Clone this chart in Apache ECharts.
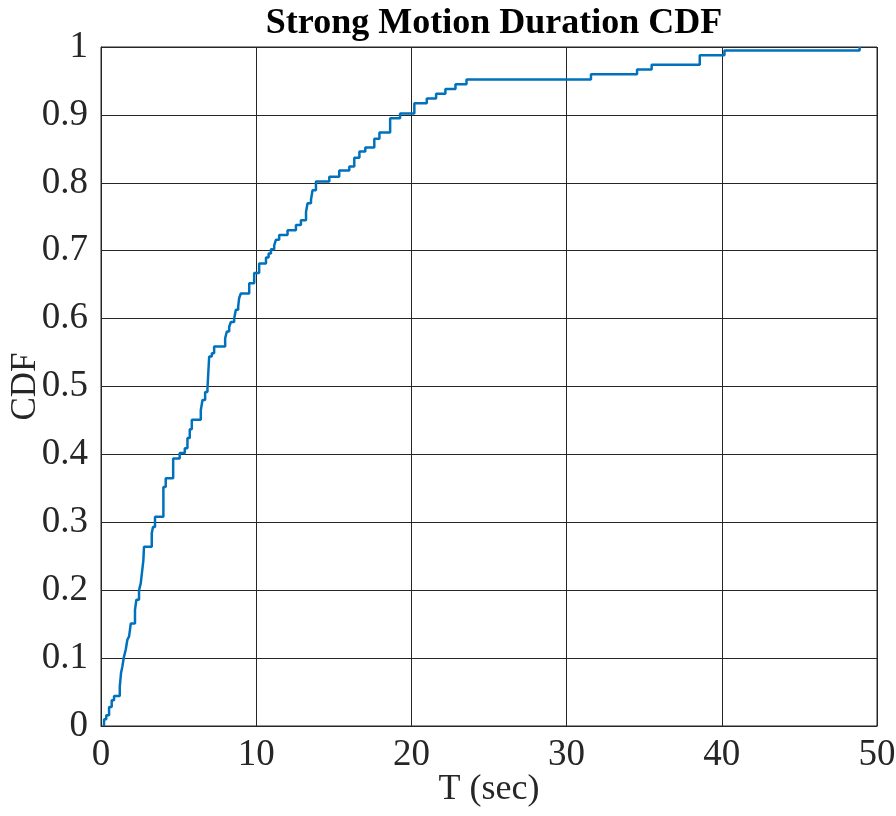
<!DOCTYPE html>
<html>
<head>
<meta charset="utf-8">
<script src="https://cdn.jsdelivr.net/npm/echarts@6/dist/echarts.min.js"></script>
<style>html,body{margin:0;padding:0;background:#fff;}#c{width:896px;height:816px;}</style>
</head>
<body>
<div id="c"></div>
<script>
// Step locations (T, sec) and CDF value after each step
const T_VALUES = [0.19, 0.2, 0.34, 0.52, 0.69, 0.84, 1.21, 1.29, 1.37, 1.48, 1.59, 1.70, 1.81, 1.92,
  2.19, 2.28, 2.45, 2.56, 2.66, 2.73, 2.77, 3.27, 3.35, 3.48, 4.02, 4.17, 4.65, 5.07, 5.40, 5.57,
  5.72, 5.85, 6.43, 6.54, 6.71, 6.86, 6.97, 7.14, 7.29, 8.00, 8.11, 8.26, 8.37, 8.58, 8.69, 8.84,
  8.90, 9.01, 9.55, 9.87, 10.19, 10.63, 10.80, 10.95, 11.16, 11.27, 11.48, 12.02, 12.56, 12.88,
  13.21, 13.31, 13.53, 13.63, 13.85, 14.71, 15.35, 16.00, 16.32, 16.65, 17.03, 17.61, 17.94,
  18.63, 19.27, 20.19, 20.99, 21.59, 22.19, 22.84, 23.55, 31.57, 34.54, 35.48, 38.58, 40.17, 48.88];
const CDF_VALUES = [0, 0.01, 0.016, 0.028, 0.038, 0.044, 0.058, 0.078, 0.087, 0.102, 0.112, 0.127, 0.132, 0.151,
  0.171, 0.186, 0.2, 0.21, 0.23, 0.244, 0.264, 0.284, 0.293, 0.308, 0.352, 0.365, 0.394, 0.402, 0.409, 0.424,
  0.437, 0.451, 0.465, 0.48, 0.492, 0.497, 0.544, 0.549, 0.559, 0.571, 0.581, 0.588, 0.595, 0.6, 0.613, 0.618,
  0.63, 0.637, 0.652, 0.667, 0.681, 0.69, 0.696, 0.702, 0.708, 0.716, 0.723, 0.73, 0.738, 0.745,
  0.757, 0.77, 0.775, 0.789, 0.802, 0.809, 0.818, 0.824, 0.837, 0.846, 0.852, 0.865, 0.874,
  0.895, 0.902, 0.917, 0.924, 0.931, 0.938, 0.945, 0.952, 0.96, 0.967, 0.974, 0.988, 0.995, 1.0];

const TITLE = 'Strong Motion Duration CDF';
const X_NAME = 'T (sec)';
const Y_NAME = 'CDF';

const chart = echarts.init(document.getElementById('c'), null, {renderer: 'canvas'});
const font = 'Liberation Serif, Times New Roman, serif';
chart.setOption({
  animation: false,
  backgroundColor: '#fff',
  title: {
    text: TITLE, left: 489, textAlign: 'center', top: 1,
    textStyle: {fontFamily: font, fontWeight: 'bold', fontSize: 36, color: '#000'}
  },
  grid: {left: 101, right: 19, top: 47, bottom: 90, outerBoundsMode: 'none', containLabel: false,
    show: true, borderColor: '#262626', borderWidth: 1, backgroundColor: 'transparent'},
  xAxis: {
    type: 'value', min: 0, max: 50, interval: 10,
    name: X_NAME, nameLocation: 'middle', nameGap: 46, nameMoveOverlap: false,
    nameTextStyle: {fontFamily: font, fontSize: 36, color: '#262626'},
    axisLine: {show: true, lineStyle: {color: '#262626', width: 1}},
    axisTick: {show: true, inside: true, length: 6, lineStyle: {color: '#262626'}},
    axisLabel: {fontFamily: font, fontSize: 37, color: '#262626', margin: 11},
    splitLine: {show: true, lineStyle: {color: '#262626', width: 1}}
  },
  yAxis: {
    type: 'value', min: 0, max: 1, interval: 0.1,
    name: Y_NAME, nameLocation: 'middle', nameGap: 58, nameMoveOverlap: false,
    nameTextStyle: {fontFamily: font, fontSize: 35, color: '#262626'},
    axisLine: {show: true, lineStyle: {color: '#262626', width: 1}},
    axisTick: {show: true, inside: true, length: 6, lineStyle: {color: '#262626'}},
    axisLabel: {fontFamily: font, fontSize: 37, color: '#262626', margin: 13},
    splitLine: {show: true, lineStyle: {color: '#262626', width: 1}}
  },
  series: [{
    type: 'line', step: 'end', showSymbol: false, symbol: 'none',
    data: T_VALUES.map((t, i) => [t, CDF_VALUES[i]]),
    lineStyle: {color: '#0072BD', width: 2.5},
    clip: true
  }]
});
</script>
</body>
</html>
